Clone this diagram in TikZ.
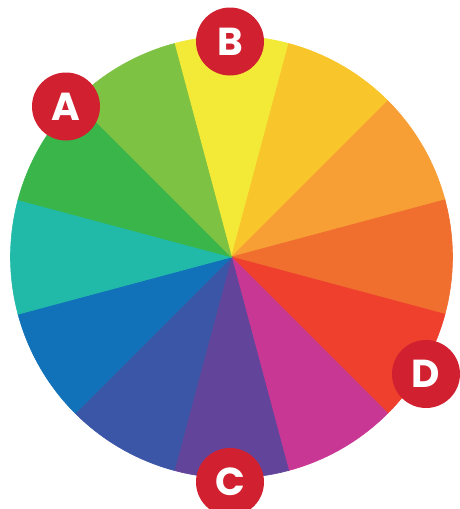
\documentclass[tikz,border=0pt]{standalone}
\usepackage{fontspec}
\newfontfamily\labelfont{Poppins}
\definecolor{cY}{HTML}{F2EA37}
\definecolor{cYO}{HTML}{F8C62A}
\definecolor{cOL}{HTML}{F79E35}
\definecolor{cO}{HTML}{F06E2E}
\definecolor{cRO}{HTML}{EE402C}
\definecolor{cM}{HTML}{C93795}
\definecolor{cP}{HTML}{62449A}
\definecolor{cI}{HTML}{3B56A6}
\definecolor{cB}{HTML}{1172B9}
\definecolor{cT}{HTML}{21BAA8}
\definecolor{cG}{HTML}{39B54A}
\definecolor{cYG}{HTML}{7DC242}
\definecolor{cLab}{HTML}{D12130}
\tikzset{
  x=1pt,y=1pt,
  labelbadge/.style={circle,fill=cLab,minimum size=68pt,inner sep=0pt,text=white,
    font=\labelfont\bfseries\fontsize{39}{39}\selectfont},
  slice/.style={line width=0.6pt}
}
\newcommand{\wheelslice}[2]{%
  \path[slice,fill=#2,draw=#2] (ctr) -- ([shift={(#1-15:221)}]ctr)
    arc[start angle=#1-15,end angle=#1+15,radius=221] -- cycle;}
\begin{document}
\begin{tikzpicture}
\useasboundingbox (0,0) rectangle (459,-509);
\coordinate (ctr) at (231.5,-257);
\wheelslice{90}{cY}
\wheelslice{60}{cYO}
\wheelslice{30}{cOL}
\wheelslice{0}{cO}
\wheelslice{-30}{cRO}
\wheelslice{-60}{cM}
\wheelslice{-90}{cP}
\wheelslice{-120}{cI}
\wheelslice{-150}{cB}
\wheelslice{180}{cT}
\wheelslice{150}{cG}
\wheelslice{120}{cYG}
\node[labelbadge] (labA) at (66,-106.5) {A};
\node[labelbadge] (labB) at (230,-41.5) {B};
\node[labelbadge] (labC) at (230,-482) {C};
\node[labelbadge] (labD) at (426,-374) {D};
\end{tikzpicture}
\end{document}
